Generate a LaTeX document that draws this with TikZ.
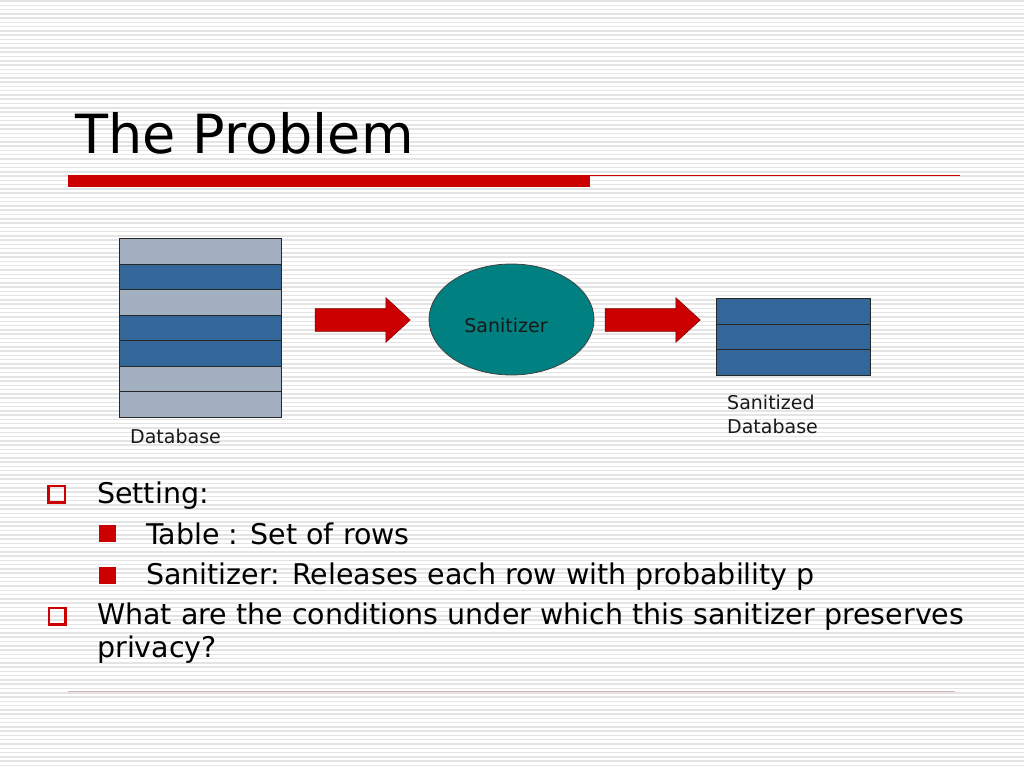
\documentclass[tikz,border=0pt]{standalone}
\usepackage{fontspec}
\setmainfont{DejaVu Sans}
\usetikzlibrary{shapes.geometric,shapes.arrows,calc}
\definecolor{stripe}{HTML}{E4E4E4}
\definecolor{slidered}{HTML}{CC0000}
\definecolor{rowlight}{HTML}{A2B0C2}
\definecolor{rowdark}{HTML}{336699}
\definecolor{sanfill}{HTML}{008080}
\definecolor{footline}{HTML}{D8B4B4}
\tikzset{
  row/.style={draw=black!85, line width=0.9pt, inner sep=0pt, anchor=north west},
  lbl/.style={inner sep=0pt, font=\fontsize{19}{24}\selectfont, text=black!90},
  body/.style={inner sep=0pt, anchor=base west, font=\fontsize{28.5}{34}\selectfont},
  blockarrow/.style={single arrow, fill=slidered, draw=red!50!black, line width=0.6pt,
    inner sep=0pt, minimum height=95pt,
    single arrow head extend=11pt, single arrow tip angle=85},
  hollowbullet/.style={draw=slidered, line width=2.5pt, minimum size=16.5pt, inner sep=0pt},
  fullbullet/.style={fill=slidered, minimum size=17pt, inner sep=0pt},
}
\begin{document}
\begin{tikzpicture}[x=1pt,y=-1pt]
\useasboundingbox (0,0) rectangle (1024,768);
\fill[white] (0,0) rectangle (1024,768);
\foreach \i in {0,...,180} \draw[stripe, line width=1.5pt] (0,{\i*4.27+1}) -- (1024,{\i*4.27+1});
% title
\node[inner sep=0pt, anchor=base west, font=\fontsize{54}{60}\selectfont] (title) at (75,153) {The Problem};
\fill[slidered] (68,175) rectangle (590,187);
\draw[slidered, line width=1.2pt] (590,175.5) -- (960,175.5);
% database
\foreach \c [count=\k] in {rowlight,rowdark,rowlight,rowdark,rowdark,rowlight,rowlight}
  \node[row, fill=\c, minimum width=162pt, minimum height=25.57pt] (db\k) at (119,{238+(\k-1)*25.57}) {};
\node[lbl, anchor=base west] (dblbl) at (130,443) {Database};
% arrow 1
\node[blockarrow] (a1) at (356.5,320) {\rule{0pt}{22pt}};
% sanitizer
\node[ellipse, draw=black!75, line width=0.8pt, fill=sanfill, minimum width=165pt, minimum height=111pt, inner sep=0pt] (san) at (511.5,319.5) {};
\node[lbl, anchor=base] (santxt) at (506,332) {Sanitizer};
% arrow 2
\node[blockarrow] (a2) at (646.5,320) {\rule{0pt}{22pt}};
% sanitized database
\foreach \k in {1,2,3}
  \node[row, fill=rowdark, minimum width=154pt, minimum height=25.67pt] (sdb\k) at (716,{298+(\k-1)*25.67}) {};
\node[lbl, anchor=base west] (sdblbl1) at (727,409) {Sanitized};
\node[lbl, anchor=base west] (sdblbl2) at (727,433) {Database};
% bullets
\node[hollowbullet] (b1) at (56.5,494) {};
\node[body] (t1) at (97,503) {Setting:};
\node[fullbullet] (b2) at (107.5,533.5) {};
\node[body] (t2) at (146,544) {Table : Set of rows};
\node[fullbullet] (b3) at (107.5,575) {};
\node[body] (t3) at (146,584) {Sanitizer: Releases each row with probability p};
\node[hollowbullet] (b4) at (57,616) {};
\node[body] (t4) at (97,624) {What are the conditions under which this sanitizer preserves};
\node[body] (t5) at (97,657) {privacy?};
\draw[footline, line width=1pt] (68,691) -- (955,691);
\end{tikzpicture}
\end{document}
